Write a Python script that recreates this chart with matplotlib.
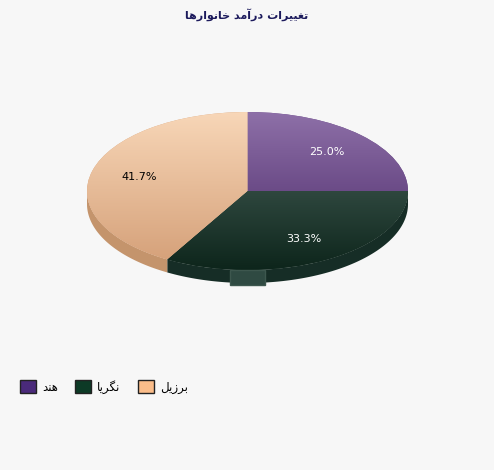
import numpy as np
import matplotlib.pyplot as plt
from matplotlib.patches import Patch, Rectangle
from matplotlib.colors import LinearSegmentedColormap

title = 'تغییرات درآمد خانوارها'
countries = ['هند', 'نگریا', 'برزیل']
values = [3, 4, 5]

face_top = ['#8e70a8', '#2e473e', '#f8d7b8']
face_bottom = ['#6b4b87', '#0d251b', '#d6a27b']
side_colors = ['#5a3d75', '#162d26', '#c4946c']
label_colors = ['white', 'white', 'black']
legend_colors = ['#4a2a7a', '#0d3a26', '#fbbd8a']

# matplotlib has no arabic shaping, so pick presentation forms by hand
# (isolated, final, initial, medial)
FORMS = {
    'ا': ('\uFE8D', '\uFE8E', None, None),
    'آ': ('\uFE81', '\uFE82', None, None),
    'ب': ('\uFE8F', '\uFE90', '\uFE91', '\uFE92'),
    'ت': ('\uFE95', '\uFE96', '\uFE97', '\uFE98'),
    'خ': ('\uFEA5', '\uFEA6', '\uFEA7', '\uFEA8'),
    'د': ('\uFEA9', '\uFEAA', None, None),
    'ر': ('\uFEAD', '\uFEAE', None, None),
    'ز': ('\uFEAF', '\uFEB0', None, None),
    'غ': ('\uFECD', '\uFECE', '\uFECF', '\uFED0'),
    'ل': ('\uFEDD', '\uFEDE', '\uFEDF', '\uFEE0'),
    'م': ('\uFEE1', '\uFEE2', '\uFEE3', '\uFEE4'),
    'ن': ('\uFEE5', '\uFEE6', '\uFEE7', '\uFEE8'),
    'ه': ('\uFEE9', '\uFEEA', '\uFEEB', '\uFEEC'),
    'و': ('\uFEED', '\uFEEE', None, None),
    'ی': ('\uFBFC', '\uFBFD', '\uFBFE', '\uFBFF'),
    'گ': ('\uFB92', '\uFB93', '\uFB94', '\uFB95'),
}


def shape(text):
    out = []
    for i, ch in enumerate(text):
        if ch not in FORMS:
            out.append(ch)
            continue
        iso, fin, ini, med = FORMS[ch]
        prev = text[i - 1] if i > 0 else ''
        nxt = text[i + 1] if i + 1 < len(text) else ''
        join_prev = prev in FORMS and FORMS[prev][2] is not None
        join_next = ini is not None and nxt in FORMS
        if join_prev and join_next:
            out.append(med)
        elif join_prev:
            out.append(fin)
        elif join_next:
            out.append(ini)
        else:
            out.append(iso)
    return ''.join(reversed(out))


fig = plt.figure(figsize=(4.94, 4.70), dpi=100, facecolor='#f7f7f7')
depth = 13 / 79
ax = fig.add_axes([87 / 494, 1 - 283 / 470, 321 / 494, 171 / 470])

wedges, texts, autotexts = ax.pie(values, colors=face_bottom, startangle=90, counterclock=False,
                                  autopct='%1.1f%%', pctdistance=0.7, radius=1,
                                  wedgeprops=dict(linewidth=0), textprops=dict(fontsize=8))

# sides of the 3d pie (lower half only is visible)
t = np.linspace(180, 360, 721)
for w, c in zip(wedges, side_colors):
    m = ((t - w.theta1) % 360) <= (w.theta2 - w.theta1)
    if m.sum() < 2:
        continue
    x = np.cos(np.radians(t[m]))
    y = np.sin(np.radians(t[m]))
    ax.fill(np.r_[x, x[::-1]], np.r_[y, y[::-1] - depth], color=c, lw=0, zorder=0)

# gradient tops
for w, top, bot in zip(wedges, face_top, face_bottom):
    verts = w.get_patch_transform().transform(w.get_path().vertices)
    y0, y1 = verts[:, 1].min(), verts[:, 1].max()
    cmap = LinearSegmentedColormap.from_list('', [bot, top])
    ax.imshow(np.linspace(1, 0, 256).reshape(-1, 1), cmap=cmap, extent=(-1, 1, y0, y1),
              aspect='auto', clip_path=w, zorder=1.5)

for txt, c in zip(autotexts, label_colors):
    txt.set_color(c)
    txt.set_zorder(3)

ax.set_aspect('auto')
ax.set_xlim(-1, 1)
ax.set_ylim(-1 - depth, 1)
ax.axis('off')

fig.add_artist(Rectangle((230 / 494, 1 - 285 / 470), 35 / 494, 15 / 470, transform=fig.transFigure,
                         facecolor='#2f4a42', edgecolor='#3d574e', lw=1))

fig.text(0.5, 1 - 15 / 470, shape(title), ha='center', va='center', fontsize=8,
         fontweight='bold', color='#1c1a5c')

handles = [Patch(facecolor=c, edgecolor='#222222', label=shape(n)) for n, c in zip(countries, legend_colors)]
fig.legend(handles=handles, loc='center left', bbox_to_anchor=(20 / 494, 1 - 387 / 470), ncol=3,
           frameon=False, fontsize=8.5, handlelength=1.35, handleheight=1.35, handletextpad=0.5,
           columnspacing=1.5, borderaxespad=0, borderpad=0)

fig.savefig('out.png', dpi=100, facecolor=fig.get_facecolor())
